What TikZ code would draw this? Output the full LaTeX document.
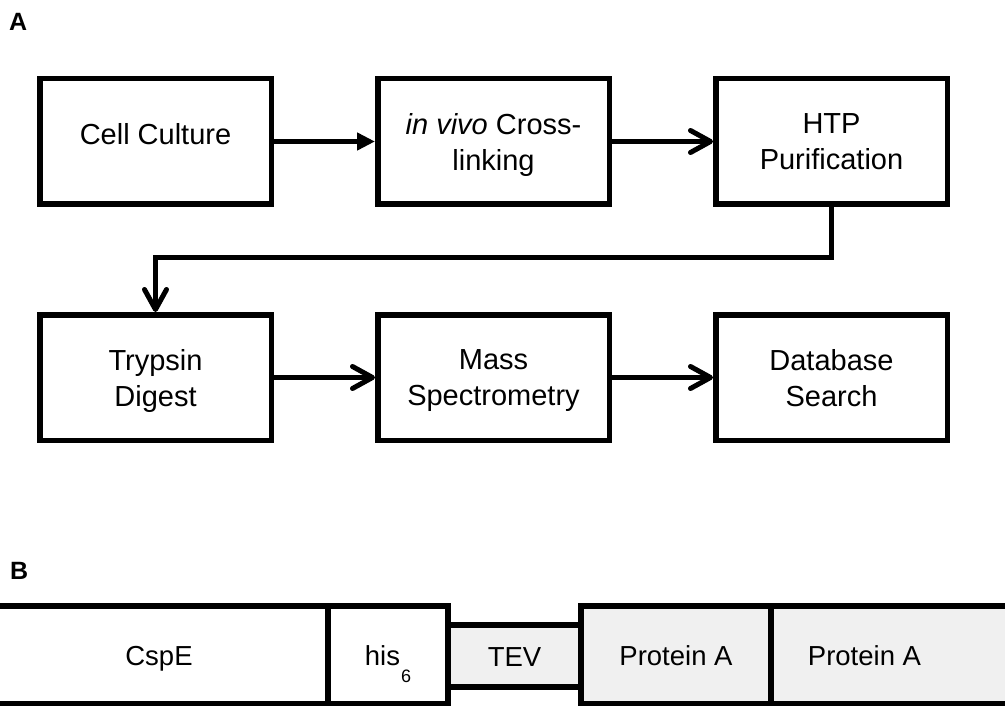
\documentclass[tikz,border=0pt]{standalone}
\usepackage{fontspec}
\setmainfont{Liberation Sans}
\usetikzlibrary{arrows.meta}
\definecolor{lightfill}{HTML}{F0F0F0}
\begin{document}
\begin{tikzpicture}[x=1pt,y=-1pt,
  stepbox/.style={draw, line width=5.5pt, minimum width=231.5pt, minimum height=125.5pt,
    align=center, inner sep=0pt, font=\fontsize{29}{36}\selectfont, text depth=0pt},
  flow/.style={line width=5pt},
  barb/.style={flow, -{Straight Barb[length=20pt,width=22pt,round]}},
  tri/.style={flow, -{Triangle[length=18pt,width=17pt]}},
  seg/.style={draw, line width=5.5pt, inner sep=0pt, font=\fontsize{27.5}{30}\selectfont,
    text height=20pt, text depth=0pt},
  panel/.style={font=\fontsize{25}{28}\selectfont\bfseries, anchor=base west, inner sep=0pt}
]
\useasboundingbox (0,0) rectangle (1005,706);

\node[panel] (labA) at (9,31) {A};
\node[panel] (labB) at (10,579) {B};

% Panel A
\node[stepbox, text depth=16pt] (b1) at (155.5,141.5) {Cell Culture};
\node[stepbox] (b2) at (493.5,141.5) {\textit{in vivo} Cross-\\linking};
\node[stepbox] (b3) at (831.5,141.5) {HTP\\Purification};
\node[stepbox] (b4) at (155.5,377.5) {Trypsin\\Digest};
\node[stepbox] (b5) at (493.5,377.5) {Mass\\Spectrometry};
\node[stepbox] (b6) at (831.5,377.5) {Database\\Search};

\draw[tri] (b1) -- (b2);
\draw[barb] (b2) -- (b3);
\draw[barb] (b3.south) -- ++(0,50) -| (b4.north);
\draw[barb] (b4) -- (b5);
\draw[barb] (b5) -- (b6);

% Panel B
\node[seg, fill=white, minimum width=338pt, minimum height=98pt] (cspe) at (159,655) {CspE};
\node[seg, fill=white, minimum width=120pt, minimum height=98pt] (his) at (388,655)
  {his\kern1pt\raisebox{-17pt}{\fontsize{18}{18}\selectfont 6}};
\node[seg, fill=lightfill, minimum width=133pt, minimum height=62pt] (tev) at (514.5,656) {TEV};
\node[seg, fill=lightfill, minimum width=190pt, minimum height=98pt] (pa1) at (676,655) {Protein A};
\node[seg, fill=lightfill, minimum width=249pt, minimum height=98pt] (pa2) at (895.5,655) {Protein A\hspace*{62pt}};
\end{tikzpicture}
\end{document}
